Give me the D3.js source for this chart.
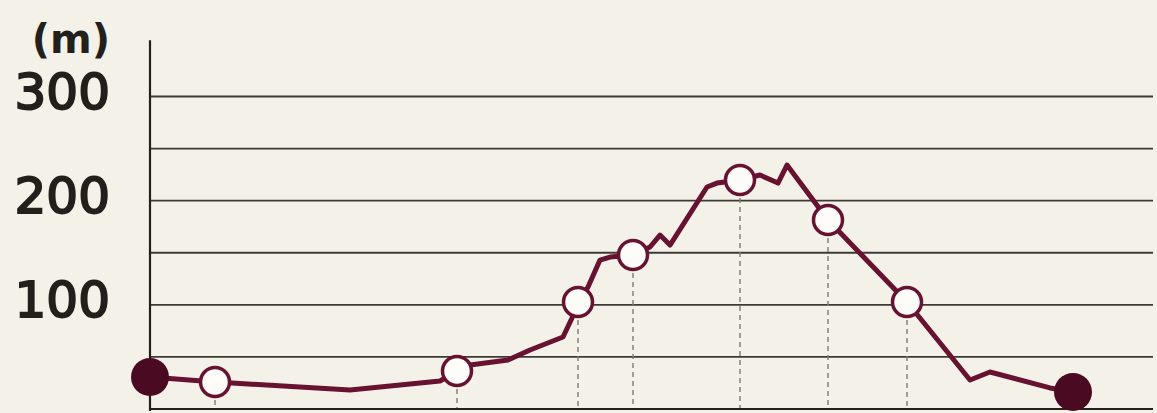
<!DOCTYPE html>
<html>
<head>
<meta charset="utf-8">
<script src="https://cdn.jsdelivr.net/npm/d3@7"></script>
<style>
  body { margin: 0; background: #f4f1e8; }
  svg { display: block; }
</style>
</head>
<body>
<div id="chart"></div>
<script>
// elevation profile of a walking course
// distance along the course (arbitrary units, 0..100) and elevation in metres
const distance = [0, 6.5, 8.2, 20, 29, 30.7, 32, 35.8, 38, 41.3, 42.2, 42.8, 43.8, 45, 46, 48.3,
    50, 51, 52, 55.7, 56.7, 59, 61, 62.8, 63.7, 67.8, 75.7, 82, 84, 90, 92.3];
const elevation = [30.7, 25.9, 25, 18.2, 26.9, 36.5, 42.2, 47, 56.6, 69.1, 87.4, 102.7, 117.1, 143, 145.9, 147.8,
    155.5, 167, 157.4, 213.1, 216.9, 219.8, 224.6, 216.9, 234.2, 181.4, 102.7, 27.8, 35.5, 20.2, 16.3];
// the checkpoints (white circles) and the start / goal (filled circles)
const checkpoints = [1, 5, 11, 15, 21, 25, 26];
const endpoints = [0, 30];
// the axis
const gridValues = [50, 100, 150, 200, 250, 300];
const tickLabels = [100, 200, 300];
const unitLabel = "(m)";

const W = 1157, H = 413;
const lineColor = "#681232";
const dotColor = "#4a0a22";
const inkColor = "#221f1c";

let svg = d3.select("#chart").append("svg")
    .attr("width", W)
    .attr("height", H);

svg.append("rect").attr("width", W).attr("height", H).attr("fill", "#f4f1e8");

// scales
let x = d3.scaleLinear().domain([0, 100]).range([150, 1150]);
let y = d3.scaleLinear().domain([0, 300]).range([409, 96.5]);

// horizontal grid lines
svg.append("g")
    .selectAll("line")
    .data(gridValues)
    .enter()
    .append("line")
    .attr("x1", x(0))
    .attr("x2", x(100.3))
    .attr("y1", d => y(d))
    .attr("y2", d => y(d))
    .attr("stroke", "#3d3a36")
    .attr("stroke-width", 1.8);

// tick labels (a light stroke makes the book weight a bit heavier)
svg.append("g")
    .selectAll("text")
    .data(tickLabels)
    .enter()
    .append("text")
    .attr("x", 110)
    .attr("y", d => y(d) + 12.5)
    .attr("text-anchor", "end")
    .attr("font-family", "DejaVu Sans")
    .attr("font-size", 50)
    .attr("fill", inkColor)
    .attr("stroke", inkColor)
    .attr("stroke-width", 2)
    .text(d => d);

svg.append("text")
    .attr("x", 110)
    .attr("y", 53)
    .attr("text-anchor", "end")
    .attr("font-family", "DejaVu Sans")
    .attr("font-weight", "bold")
    .attr("font-size", 40)
    .attr("fill", inkColor)
    .text(unitLabel);

// dashed drop lines under each checkpoint
svg.append("g")
    .selectAll("line")
    .data(checkpoints)
    .enter()
    .append("line")
    .attr("x1", i => x(distance[i]))
    .attr("x2", i => x(distance[i]))
    .attr("y1", i => y(elevation[i]))
    .attr("y2", y(0))
    .attr("stroke", "#7f7b75")
    .attr("stroke-width", 1.4)
    .attr("stroke-dasharray", "5,4");

// axis lines
svg.append("line")
    .attr("x1", x(0)).attr("x2", x(0))
    .attr("y1", y(354)).attr("y2", y(0) + 2)
    .attr("stroke", inkColor)
    .attr("stroke-width", 2.2);
svg.append("line")
    .attr("x1", x(0)).attr("x2", x(100.3))
    .attr("y1", y(0)).attr("y2", y(0))
    .attr("stroke", inkColor)
    .attr("stroke-width", 2.2);

// the profile
let profile = d3.line()
    .x((d, i) => x(distance[i]))
    .y(d => y(d));

svg.append("path")
    .attr("d", profile(elevation))
    .attr("fill", "none")
    .attr("stroke", lineColor)
    .attr("stroke-width", 5)
    .attr("stroke-linejoin", "round");

// checkpoints
svg.append("g")
    .selectAll("circle")
    .data(checkpoints)
    .enter()
    .append("circle")
    .attr("cx", i => x(distance[i]))
    .attr("cy", i => y(elevation[i]))
    .attr("r", 14.5)
    .attr("fill", "#fdfcf8")
    .attr("stroke", lineColor)
    .attr("stroke-width", 3.5);

// start and goal
svg.append("g")
    .selectAll("circle")
    .data(endpoints)
    .enter()
    .append("circle")
    .attr("cx", i => x(distance[i]))
    .attr("cy", i => y(elevation[i]))
    .attr("r", 19)
    .attr("fill", dotColor);
</script>
</body>
</html>
